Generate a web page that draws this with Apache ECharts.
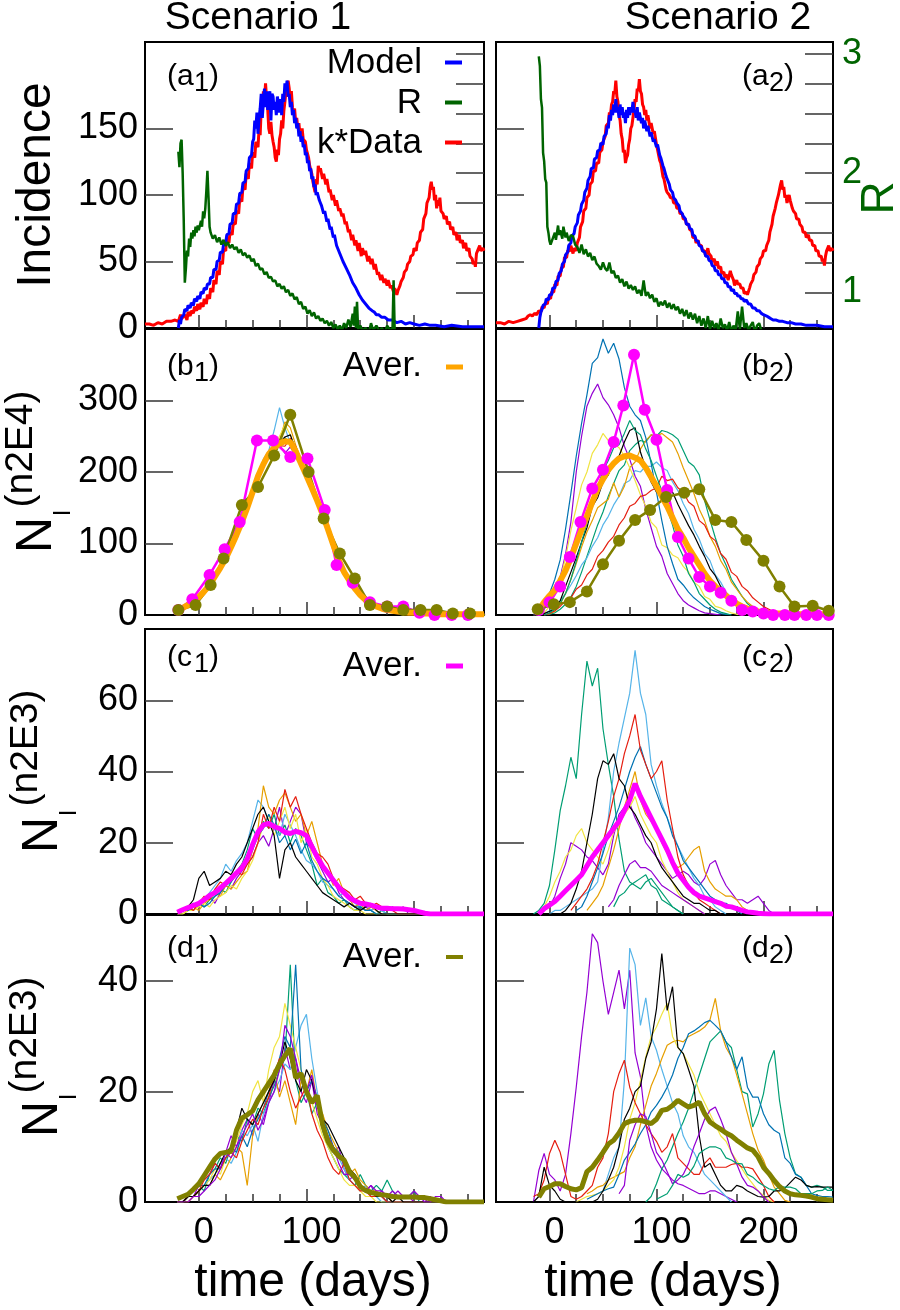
<!DOCTYPE html>
<html>
<head>
<meta charset="utf-8">
<title>Scenario 1 / Scenario 2</title>
<script src="https://cdn.jsdelivr.net/npm/echarts@6/dist/echarts.min.js"></script>
<style>
  html, body { margin: 0; background: #fff; }
  #chart { width: 900px; height: 1310px; }
</style>
</head>
<body>
<div id="chart"></div>
<script>
const _ = null;

// ---- panel (a): incidence, model and R, as [day, value] ----
const a1Data = [[-50,3],[-46,3],[-42,2],[-38,4],[-34,3],[-30,5],[-26,5],[-22,6],[-19,5],[-17,10],[-16,7],[-13,10],[-11,6],[-10,12],[-8,9],[-7,13],[-5,11],[-4,16],[-2,13],[-1,18],[1,14],[2,19],[4,16],[5,22],[7,18],[8,25],[10,22],[11,30],[13,27],[14,36],[16,33],[17,43],[19,40],[20,50],[22,48],[23,59],[25,58],[26,68],[28,64],[29,72],[31,70],[32,79],[34,78],[35,88],[37,86],[38,97],[40,95],[41,106],[43,104],[44,116],[46,112],[47,124],[49,120],[50,132],[52,128],[53,140],[55,136],[56,150],[57,145],[58,165],[59,160],[60,178],[61,170],[62,184],[63,172],[64,165],[65,150],[66,146],[67,155],[68,145],[69,140],[70,136],[71,128],[72,125],[73,134],[74,130],[75,142],[76,146],[77,156],[78,150],[79,163],[80,170],[81,178],[82,174],[83,186],[84,180],[85,172],[86,178],[87,166],[88,162],[89,165],[90,155],[91,158],[92,150],[93,154],[94,146],[96,150],[97,142],[99,140],[100,134],[102,128],[103,122],[105,116],[106,110],[107,106],[108,102],[109,112],[110,108],[111,122],[112,118],[113,120],[115,112],[116,116],[118,108],[119,112],[121,102],[122,104],[124,96],[125,100],[127,92],[128,96],[130,88],[131,90],[133,84],[134,86],[136,78],[137,80],[139,72],[140,74],[142,66],[143,70],[145,62],[146,66],[148,58],[149,64],[151,54],[152,60],[154,55],[155,58],[157,50],[158,54],[160,48],[161,52],[163,44],[164,48],[166,40],[167,42],[169,36],[170,40],[172,34],[173,37],[175,32],[176,36],[178,30],[179,32],[181,27],[182,30],[184,25],[185,28],[187,32],[188,35],[190,38],[191,42],[193,44],[194,48],[196,50],[197,54],[199,55],[200,60],[202,58],[203,64],[205,66],[206,72],[208,74],[209,82],[211,86],[212,94],[214,98],[215,106],[216,110],[217,104],[218,106],[219,96],[220,100],[221,90],[222,96],[223,92],[224,98],[225,88],[227,86],[228,82],[230,84],[231,78],[233,80],[234,74],[236,76],[237,70],[239,72],[240,66],[242,70],[243,64],[245,66],[246,60],[248,64],[249,58],[251,60],[252,54],[254,52],[255,48],[256,50],[257,46],[258,56],[259,58],[261,62],[262,58],[264,60],[265,58]];
const a1Model = [[-19,0],[-18,6],[-17,3],[-16,8],[-14,10],[-13,14],[-11,13],[-10,17],[-8,15],[-7,19],[-5,17],[-4,22],[-2,20],[-1,24],[1,22],[2,27],[4,26],[5,30],[7,29],[8,33],[10,33],[11,38],[13,38],[14,44],[16,44],[17,50],[19,51],[20,57],[22,57],[23,63],[25,64],[26,70],[28,71],[29,78],[31,79],[32,86],[34,86],[35,93],[37,94],[38,101],[40,102],[41,109],[43,110],[44,118],[46,120],[47,128],[49,130],[50,140],[51,142],[52,156],[53,150],[54,162],[55,146],[56,158],[57,165],[58,176],[59,158],[60,170],[61,180],[62,166],[63,178],[64,164],[65,172],[66,178],[67,156],[68,176],[69,174],[70,164],[71,170],[72,160],[73,174],[74,168],[75,162],[76,172],[77,160],[78,176],[79,170],[80,184],[81,178],[82,186],[83,174],[84,176],[85,166],[86,170],[87,160],[88,164],[89,154],[90,158],[91,150],[92,154],[93,144],[94,148],[95,140],[96,144],[97,136],[98,138],[99,130],[100,132],[101,124],[102,126],[103,118],[104,120],[105,112],[106,114],[107,106],[108,108],[109,100],[110,102],[112,96],[113,94],[114,92],[116,86],[117,88],[119,80],[120,82],[122,74],[123,76],[125,68],[126,70],[128,62],[129,63],[131,56],[132,57],[134,50],[135,51],[137,45],[138,46],[140,40],[141,40],[143,34],[144,35],[146,30],[147,30],[149,25],[150,26],[152,21],[153,22],[155,18],[156,19],[158,15],[159,16],[161,13],[163,12],[165,10],[167,10],[170,8],[173,8],[176,6],[180,6],[184,4],[188,5],[192,3],[196,4],[200,3],[205,2],[210,3],[215,2],[220,2],[228,1],[235,2],[245,1],[255,1],[265,1]];
const a1R = [[-19,2.18],[-18,2.05],[-17,2.25],[-16,2.28],[-15,2.0],[-14,1.6],[-13,1.08],[-12,1.2],[-11,1.35],[-10,1.3],[-9,1.45],[-8,1.38],[-7,1.5],[-6,1.45],[-5,1.52],[-4,1.47],[-3,1.55],[-2,1.5],[-1,1.56],[0,1.52],[2,1.6],[3,1.55],[4,1.68],[5,1.62],[6,1.7],[7,1.85],[8,2.02],[9,1.8],[10,1.55],[11,1.5],[13,1.45],[15,1.48],[17,1.42],[19,1.46],[21,1.4],[23,1.44],[25,1.39],[27,1.42],[29,1.37],[31,1.4],[33,1.36],[35,1.38],[37,1.33],[39,1.36],[41,1.31],[43,1.33],[45,1.29],[47,1.31],[49,1.26],[51,1.28],[53,1.22],[55,1.24],[57,1.19],[59,1.2],[61,1.15],[63,1.17],[65,1.12],[67,1.13],[69,1.09],[71,1.1],[73,1.05],[75,1.07],[77,1.03],[79,1.05],[81,1.0],[83,1.02],[85,0.97],[87,0.99],[89,0.94],[91,0.96],[93,0.9],[95,0.92],[97,0.86],[99,0.88],[101,0.82],[103,0.85],[105,0.8],[107,0.83],[109,0.78],[111,0.8],[113,0.76],[115,0.78],[117,0.74],[119,0.76],[121,0.72],[123,0.75],[125,0.7],[127,0.73],[129,0.69],[131,0.72],[133,0.68],[135,0.74],[137,0.7],[139,0.77],[141,0.71],[143,0.82],[144,0.72],[145,0.88],[146,0.7],[147,0.92],[148,0.69],[150,0.72],[152,0.68],[155,0.7],[158,0.66],[160,0.74],[162,0.68],[165,0.72],[168,0.67],[170,0.7],[173,0.66],[175,0.72],[178,0.68],[180,0.7],[181,1.1],[182,0.68],[183,0.6]];
const a2Data = [[-50,4],[-46,4],[-42,3],[-38,5],[-34,4],[-30,5],[-26,6],[-22,7],[-20,9],[-18,10],[-16,9],[-14,11],[-12,10],[-10,13],[-8,12],[-7,16],[-5,15],[-4,19],[-2,18],[-1,23],[1,22],[2,27],[4,27],[5,33],[7,32],[8,39],[10,39],[11,45],[13,46],[14,53],[16,53],[17,58],[19,58],[20,62],[22,56],[23,60],[25,58],[26,64],[28,68],[29,76],[31,80],[32,88],[34,90],[35,98],[37,100],[38,108],[40,110],[41,118],[43,118],[44,124],[46,124],[47,132],[49,134],[50,140],[52,144],[53,152],[55,154],[56,162],[57,160],[58,168],[59,170],[60,178],[61,176],[62,186],[63,174],[64,170],[65,160],[66,156],[67,146],[68,142],[69,132],[70,134],[71,124],[72,128],[73,130],[74,138],[75,142],[76,150],[77,152],[78,158],[79,164],[80,172],[81,170],[82,180],[83,178],[84,187],[85,178],[86,176],[87,168],[88,166],[89,160],[90,164],[91,156],[92,160],[94,150],[95,154],[97,146],[98,148],[100,138],[101,134],[103,126],[104,124],[106,114],[107,112],[109,104],[110,102],[112,100],[113,98],[115,98],[116,94],[118,94],[119,90],[121,90],[122,86],[124,86],[125,82],[127,82],[128,78],[130,78],[131,74],[133,73],[134,68],[136,68],[137,64],[139,66],[140,62],[142,62],[143,58],[145,58],[146,54],[148,60],[149,56],[151,54],[152,50],[154,52],[155,47],[157,50],[158,45],[160,46],[161,41],[163,42],[164,38],[166,40],[167,36],[169,43],[170,40],[172,36],[173,32],[175,36],[176,33],[178,33],[179,30],[181,30],[182,26],[184,27],[185,25],[187,30],[188,33],[190,36],[191,40],[193,42],[194,46],[196,48],[197,52],[199,54],[200,58],[202,58],[203,62],[205,66],[206,72],[208,78],[209,84],[211,90],[212,94],[214,100],[215,104],[216,108],[217,111],[218,104],[219,106],[220,98],[221,100],[222,94],[224,100],[225,96],[227,90],[228,88],[230,86],[231,82],[233,82],[234,78],[236,76],[237,72],[239,72],[240,68],[242,70],[243,66],[245,66],[246,62],[248,62],[249,58],[251,58],[252,54],[254,54],[255,50],[256,52],[257,47],[258,54],[259,58],[261,62],[262,58],[264,60],[265,58]];
const a2Model = [[-10,0],[-9,8],[-8,12],[-7,14],[-6,17],[-4,18],[-3,22],[-1,21],[0,25],[2,25],[3,30],[5,30],[6,35],[8,36],[9,41],[11,43],[12,48],[14,50],[15,55],[17,57],[18,62],[20,64],[21,69],[23,71],[24,76],[26,79],[27,85],[29,88],[30,93],[32,96],[33,102],[35,105],[36,111],[38,114],[39,120],[41,120],[42,127],[44,128],[45,133],[47,134],[48,139],[50,138],[51,144],[53,146],[54,152],[55,150],[56,160],[57,156],[58,164],[59,160],[60,168],[61,162],[62,172],[63,162],[64,166],[65,158],[66,168],[67,160],[68,166],[69,158],[70,162],[71,154],[72,164],[73,158],[74,166],[75,160],[76,166],[77,162],[78,170],[79,162],[80,164],[81,158],[82,166],[83,156],[84,162],[86,154],[87,158],[88,150],[89,156],[91,148],[92,152],[94,144],[95,147],[97,140],[98,142],[100,136],[101,138],[103,130],[104,128],[106,122],[107,120],[109,114],[110,112],[112,108],[113,104],[115,102],[116,98],[118,96],[119,94],[121,92],[122,88],[124,86],[125,84],[127,82],[128,78],[130,78],[131,75],[133,74],[134,70],[136,69],[137,66],[139,65],[140,62],[142,61],[143,58],[145,57],[146,54],[148,54],[149,51],[151,50],[152,47],[154,46],[155,43],[157,43],[158,40],[160,40],[161,37],[163,37],[164,34],[166,34],[167,31],[169,31],[170,28],[172,29],[173,26],[175,26],[176,24],[178,24],[179,22],[181,22],[182,20],[184,21],[186,18],[188,18],[190,15],[192,15],[194,13],[196,13],[198,11],[200,10],[203,9],[205,8],[207,7],[209,6],[212,6],[215,5],[218,5],[222,4],[226,4],[230,3],[235,3],[240,2],[245,2],[250,2],[257,1],[265,1]];
const a2R = [[-10,2.98],[-9,2.9],[-8,2.62],[-7,2.55],[-6,2.17],[-5,2.1],[-4,1.95],[-3,1.92],[-2,1.55],[-1,1.5],[0,1.43],[1,1.4],[2,1.39],[3,1.45],[5,1.5],[6,1.44],[8,1.56],[9,1.48],[10,1.52],[12,1.45],[13,1.55],[15,1.46],[16,1.5],[18,1.43],[20,1.48],[22,1.47],[24,1.4],[26,1.38],[28,1.33],[30,1.4],[32,1.32],[34,1.36],[36,1.3],[38,1.33],[40,1.27],[42,1.3],[44,1.24],[46,1.22],[48,1.19],[50,1.25],[52,1.2],[54,1.18],[56,1.25],[58,1.16],[60,1.18],[62,1.12],[64,1.14],[66,1.08],[68,1.11],[70,1.05],[72,1.09],[74,1.03],[76,1.06],[78,1.02],[80,1.05],[82,0.99],[84,1.02],[86,0.97],[88,1.1],[90,0.97],[92,1.0],[94,0.95],[96,0.98],[98,0.92],[100,0.95],[102,0.88],[104,0.92],[106,0.89],[108,0.93],[110,0.87],[112,0.91],[114,0.86],[116,0.9],[118,0.85],[120,0.88],[122,0.82],[124,0.86],[126,0.8],[128,0.85],[130,0.78],[132,0.83],[134,0.77],[136,0.82],[138,0.74],[140,0.8],[142,0.72],[144,0.78],[146,0.7],[148,0.8],[150,0.69],[152,0.76],[154,0.7],[156,0.74],[158,0.68],[160,0.78],[162,0.7],[164,0.73],[166,0.68],[168,0.75],[170,0.67],[172,0.72],[174,0.68],[176,0.84],[178,0.69],[180,0.88],[182,0.7],[184,0.74],[186,0.68],[188,0.72],[190,0.75],[192,0.66],[194,0.72],[196,0.74],[198,0.68],[200,0.6]];

// ---- panels (b)-(d): values sampled on this day grid ----
const days = [-20,-15,-10,-5,0,5,10,15,20,25, 30,35,40,45,50,55,60,65,70,75, 80,85,90,95,100,105,110,115,120,125, 130,135,140,145,150,155,160,165,170,175, 180,185,190,195,200,205,210,215,220,225, 230,235,240,245,250,255,260,265];

const b1Avg = [6,10,14,19,25,33,42,54,66,79, 95,112,130,150,172,194,211,225,234,240, 243,242,229,212,195,178,160,141,120,98, 77,60,48,37,28,21,16,12,9,7, 6,5,4,3,3,2,2,2,1,1, 1,1,1,1,1,1,1,1];
const b1Mag = [[-19,7],[-6,22],[10,56],[24,92],[38,130],[54,244],[69,244],[85,221],[101,219],[117,147],[128,70],[143,45],[159,18],[175,12],[190,12],[205,3],[219,0],[235,0],[250,0],[266,0]];
const b1Olive = [[-19,7],[-3,14],[11,42],[23,79],[40,154],[55,179],[70,223],[85,280],[102,200],[116,135],[131,86],[145,51],[159,14],[175,12],[190,7],[206,7],[221,7],[236,2],[252,2],[266,0]];
const b1Runs = [
  [5,9,15,18,26,30,44,52,70,76, 98,108,134,146,176,190,215,222,230,238, 226,235,222,210,190,182,158,146,118,100, 74,62,46,38,26,22,14,12,8,6, 5,4,3,2,2,1,1,1,0,0,0],
  [6,10,13,20,24,35,40,57,63,82, 92,115,128,153,168,198,207,228,238,236, 248,240,225,216,199,172,163,138,124,95, 80,57,50,34,30,19,17,11,10,6, 6,4,4,3,2,2,1,1,1,0,0],
  [7,9,16,17,27,31,45,50,68,74, 99,106,135,144,178,188,218,230,258,290, 262,240,220,208,193,180,156,144,115,102, 73,63,45,40,25,23,15,13,9,7, 5,5,3,3,2,1,1,1,0,0,0],
  [5,11,13,21,23,34,41,56,64,80, 96,110,126,152,170,196,212,224,236,244, 270,262,238,215,198,175,164,139,122,96, 81,58,52,36,30,24,18,15,12,9, 7,6,4,3,2,2,1,1,1,0,0],
  [6,10,14,19,25,32,43,53,67,79, 94,113,131,149,174,193,210,226,236,250, 266,252,232,214,196,180,161,142,121,99, 78,61,49,37,29,21,16,12,9,7, 5,4,3,3,2,2,1,1,0,0,0],
  [7,9,15,18,26,33,41,55,65,81, 93,114,129,151,171,195,209,227,232,242, 240,244,228,210,194,177,159,140,119,97, 76,59,47,36,27,20,15,11,8,6, 5,4,3,2,2,1,1,1,0,0,0],
  [5,10,14,20,24,34,42,53,66,78, 96,111,130,150,173,194,213,222,232,237, 236,247,236,218,201,180,162,137,115,96, 72,57,45,34,26,19,14,10,8,6, 4,3,3,2,2,1,1,0,0,0,0],
  [6,9,13,19,25,33,43,54,67,78, 95,112,131,151,172,196,211,224,238,241, 249,252,231,214,196,179,160,142,120,98, 77,60,48,37,28,21,16,12,9,7, 5,4,3,2,2,1,1,1,0,0,0]
];

const b2Avg = [_,_,7,18,27,35,48,62,80,100, 119,138,158,176,190,203,212,219,222,223, 220,216,206,193,180,166,152,136,120,108, 94,82,70,58,48,40,33,27,21,16, 12,9,7,5,4,3,2,2,2,2, 1,1,1,1,1,1,1,1];
const b2Mag = [[-10,7],[0,18],[10,40],[19,81],[29,130],[40,177],[50,203],[60,242],[69,293],[79,364],[89,287],[100,245],[110,175],[120,109],[130,79],[140,53],[150,40],[160,31],[170,20],[180,7],[190,5],[200,2],[209,0],[220,0],[229,0],[240,0],[250,0],[261,0]];
const b2Olive = [[-11,8],[4,15],[19,18],[35,33],[50,71],[65,104],[80,133],[94,147],[109,165],[126,171],[140,176],[155,133],[170,130],[184,105],[200,76],[215,40],[229,12],[246,13],[261,6]];
const b2Runs = [
  [_,0,2,8,20,35,53,85,130,200, 250,292,310,323,304,294,280,262,236,218, 194,180,148,122,96,82,58,44,30,20, 14,10,6,3,2,1,0],
  [_,_,_,0,1,3,8,15,25,40, 60,82,104,126,144,166,184,202,210,230, 238,244,242,252,250,258,256,252,246,230, 214,208,196,160,133,108,86,70,50,38, 26,16,10,6,3,2,1,0],
  [_,_,0,2,6,12,20,30,42,55, 70,80,96,108,126,138,154,166,184,188, 202,200,208,208,214,206,202,186,174,156, 142,120,106,86,76,56,46,32,24,16, 10,6,3,1,0],
  [_,_,_,0,2,5,15,30,50,72, 95,116,132,150,156,162,185,165,180,206, 214,232,244,252,250,254,248,242,226,206, 188,170,148,132,110,96,76,64,46,36, 26,18,12,8,5,3,1,0],
  [_,0,0,3,12,28,50,80,118,150, 182,200,226,238,254,244,240,234,222,206, 188,168,152,130,122,98,94,84,80,68, 60,46,40,26,22,12,10,6,3,1, 0],
  [_,0,2,8,30,50,77,120,170,222, 268,308,352,360,386,366,380,358,318,292, 280,272,248,212,172,132,96,72,50,42, 32,24,18,12,8,5,2,1,0],
  [_,_,_,0,2,6,12,20,24,36, 42,56,64,82,90,102,110,126,136,152, 156,166,168,174,178,194,188,190,178,172, 158,152,132,126,110,104,86,78,60,54, 40,34,24,18,12,8,4,2,1,0],
  [_,0,0,2,5,8,20,40,60,80, 102,122,152,164,186,196,214,222,242,258, 262,228,205,186,172,168,178,172,155,140, 125,112,96,82,65,55,40,30,22,17, 12,8,4,2,1,0],
  [_,_,_,0,3,8,16,30,50,75, 102,128,156,178,202,216,234,238,254,272, 258,252,232,216,194,174,148,126,98,82, 58,46,30,22,14,8,4,2,0]
];

const c1Avg = [0.5,1.2,1.8,2.4,3,4,5.2,6,7.3,8.6, 10,11.5,13,15.5,19.5,23,25,25.4,24.5,24, 23,22.6,23.2,22.8,22,19,16,13.5,11.5,9.5, 7.5,6,4.5,3.7,3,2.8,2.5,2,1.6,1.6, 1.5,1.5,1.4,1.2,1,0.6,0.2,0,0,0, 0,0,0,0,0,0,0,0];
const c1Runs = [
  [0,1,2,3,2,4,5,3,6,8, 7,10,12,14,16,20,22,19,24,30, 22,26,30,28,20,18,15,12,9,10, 6,4,3,2,3,2,1,2,1,1, 2,1,2,0,0,0,0,0],
  [0,0,1,2,3,2,4,5,7,6, 9,12,14,18,24,21,26,24,28,22, 25,20,24,22,18,14,8,10,6,5, 3,4,2,1,2,1,1,0,1,0, 0,0,0,0,0,0,0,0],
  [0,1,2,1,3,4,6,8,10,14, 12,15,17,20,26,32,30,26,24,22, 28,25,22,18,15,14,12,9,8,7, 5,6,4,3,2,3,1,2,1,0, 0,0,0,0,0,0,0,0],
  [0,0,1,2,1,3,4,6,5,8, 7,9,11,12,18,24,36,30,28,32, 34,30,26,28,22,26,20,14,12,8, 10,6,4,2,3,1,2,1,0,0, 0,0,0,0,0,0,0,0],
  [0,0,1,1,2,3,2,4,5,6, 8,7,10,12,15,20,25,28,22,26, 30,24,28,20,24,16,14,10,8,5, 4,3,2,1,1,0,0,0,0,0, 0,0,0,0,0,0,0,0],
  [0,1,1,2,3,2,3,5,6,8, 9,11,13,15,18,22,24,28,25,20, 22,18,21,17,20,15,12,10,9,7, 5,4,3,2,2,1,1,0,0,0, 0,0,0,0,0,0,0,0],
  [0,1,2,1,3,5,4,7,9,8, 10,12,11,14,16,20,28,24,30,26, 35,30,33,28,24,20,17,16,14,10, 8,7,6,4,5,3,2,3,2,1, 1,0,0,0,0,0,0,0],
  [0,1,2,4,10,12,8,9,10,12, 11,14,16,20,24,28,30,26,22,10, 18,20,16,14,12,10,8,6,5,4, 3,2,3,2,1,2,3,1,0,0, 0,0,0,0,0,0,0,0]
];

const c2Avg = [_,_,0,1.5,2.5,3.5,5,6.5,8,9.5, 11,13.5,16,18,20,22,24,26,29,32, 36.6,33,30,27,24,21,18,14.5,11.5,9.5, 7.5,6,5,4.5,4,3.5,3,2.2,2,1.5, 1,0.6,0.4,0.2,0.1,0,0,0,0,0, 0,0,0,0,0,0,0,0];
const c2Runs = [
  [_,_,_,_,2,5,10,14,20,19, 18,16,15,13,11,14,22,28,30,31, 27,24,20,18,16,14,12,10,11,12, 11,9,8,10,14,15,11,8,6,4, 4,3,4,5,3,1,0],
  [_,0,1,3,8,18,29,36,44,38, 56,71,64,69,52,42,33,21,12,9, 8,7,9,10,8,6,4,2,1,0],
  [_,_,_,_,0,1,1,2,3,4, 5,6,7,9,18,27,40,48,55,62, 74,62,56,42,36,31,27,23,19,16, 13,10,8,5,4,2,1,0],
  [_,_,_,_,_,_,_,_,_,_, _,1,3,5,8,13,18,24,30,35, 40,32,28,26,24,20,17,15,13,14, 16,18,19,12,9,7,6,5,5,4, 2,1,0],
  [_,_,0,2,5,9,12,16,18,22, 24,20,18,16,14,18,23,25,28,30, 33,28,25,22,20,15,12,9,6,4, 3,2,1,0],
  [_,_,_,_,_,_,_,_,_,1, 2,5,9,13,17,22,26,30,35,40, 44,47,42,38,34,30,27,22,19,15, 13,11,9,7,5,4,3,3,2,1, 0],
  [_,_,_,_,_,_,_,_,1,3, 5,7,10,14,20,26,33,38,45,50, 56,46,42,38,40,43,32,24,16,11, 8,6,4,3,2,1,0],
  [_,_,_,_,0,0,0,1,3,7, 12,20,28,38,43,42,45,38,36,30, 28,25,22,20,16,13,11,9,7,5, 4,3,3,2,1,1,0],
  [_,_,_,_,_,_,_,_,_,_, _,_,_,_,_,2,4,8,11,14, 15,13,13,12,10,8,7,6,5,4, 3,2,1,0],
  [_,_,_,_,_,_,_,_,_,_, _,_,_,_,_,_,2,5,6,8, 9,10,11,8,7,4,3,2,1,0]
];

const d1Avg = [0.6,1,1.4,2.3,3.3,4.8,6.3,7.8,8.8,9, 9.2,13,15.2,15.8,16.5,18.5,20,21.5,23,25, 26.5,27.8,22.5,23.3,20,18,19.3,14,11,9.4, 8.3,7.6,5.5,4.5,2.8,2.1,1.7,1.5,1.3,1.2, 1,0.9,0.9,0.9,0.9,0.8,0.8,0.6,0.4,0.2, 0,0,0,0,0,0,0,0];
const d1Runs = [
  [0,0,1,1,3,4,5,7,6,9, 12,10,13,15,12,16,14,18,22,20, 28,24,26,20,18,22,16,14,12,9, 10,6,4,5,3,2,3,1,2,1, 1,2,1,1,0,0,0,1,0,0,0],
  [0,0,1,2,3,2,5,6,8,7, 10,12,11,15,14,17,16,19,21,24, 26,43,22,18,20,16,18,13,10,8, 6,5,4,3,5,3,2,3,2,4, 2,1,1,1,2,0,0,0,0,0,0],
  [0,0,1,1,2,3,4,5,7,8, 7,9,13,12,14,11,16,18,20,22, 25,24,28,32,34,26,20,15,12,10, 8,6,4,3,2,3,1,1,0,0, 0,0,0,0,0,0,0,0,0,0,0],
  [0,0,0,1,2,3,3,5,4,6, 8,10,9,3,12,16,18,20,24,19, 22,18,14,22,20,24,18,16,13,11, 9,7,5,6,4,3,2,2,1,1, 0,0,0,0,0,0,0,0,0,0,0],
  [0,0,1,1,2,3,4,6,5,8, 9,11,14,16,20,22,18,24,28,30, 36,32,28,24,20,18,15,12,10,8, 6,4,3,3,2,1,1,0,0,0, 0,0,0,0,0,0,0,0,0,0,0],
  [0,0,1,2,3,3,5,6,6,8, 10,9,12,10,13,15,17,20,22,26, 30,28,43,24,20,22,19,15,13,10, 9,7,5,4,3,2,2,1,1,0, 0,0,0,0,0,0,0,0,0,0,0],
  [0,0,1,1,2,4,5,7,6,8, 9,8,11,13,15,14,17,19,23,26, 24,20,17,19,21,16,13,11,8,6, 5,7,4,3,2,2,1,1,1,0, 0,0,0,0,0,0,0,0,0,0,0],
  [0,0,1,1,2,3,3,5,7,9, 10,13,17,15,14,16,18,20,22,25, 29,26,22,20,24,22,18,15,14,12, 10,8,6,5,3,2,2,1,1,1, 0,1,0,0,0,0,0,0,0,0,0],
  [0,0,0,1,1,2,3,4,6,9, 8,10,12,14,16,13,15,18,20,24, 32,30,26,22,20,23,18,14,12,10, 7,5,5,4,3,2,3,2,2,1, 2,1,1,1,2,1,0,0,1,1,0]
];

const d2Avg = [_,_,0.9,2.4,2.8,3.3,3.3,2.8,2.4,2.2, 2.6,5.5,6.3,7.6,9,10.5,11.2,12.5,14.2,14.6, 14.8,14.8,14.5,14.2,15,16.6,16.8,17.5,18.4,17.8, 17.2,17.5,18.1,16,14.5,13.8,13.2,12.5,12,11.2, 10.5,9.8,9.4,8.2,6.3,5.2,3.9,2.8,2,1.5, 1.3,1.2,1.1,0.9,0.6,0.5,0.4,0.3];
const d2Runs = [
  [_,0,5.7,8.8,5,4,2,5,12.4,20.8, 30,38,48.6,47,40,34,38,42,35,42, 27,22.7,14,10,7.6,6,5,4,3.3,3, 2.5,2,1.5,1.5,2,2,1.5,1,0.5,0],
  [_,_,_,_,_,_,_,_,_,_, _,_,_,_,_,_,_,_,_,_, _,_,0,1,3.3,6,7.6,10,12.4,14.5, 17,20,23,26,29,30,31,29,28,24, 20,19.6,13.6,16,19.6,25,27.5,18.4,12.4,8, 5.1,4.5,3,2.7,3,2.7,2.1,2.1],
  [_,_,_,_,_,_,_,_,_,_, _,_,_,_,2,5,8,10,22,46, 43,32,37,30,27.5,24,21,18,16,12, 10,9,7,5,4,3,2,1,0],
  [_,_,_,_,_,_,_,_,_,_, _,1.5,2,2.7,3,4,4.5,5,5.5,8, 10,14,17.5,21,23.3,26,28.4,29,29.3,29, 30,30.5,31,31.7,33,36.9,31,28,26.3,23, 19.6,16,12.4,9.4,7.6,5,2.7,1.5,0.3,0],
  [_,_,_,_,_,_,_,_,_,0, 0.5,1,1.2,1.5,2,3,4,6.3,10,15, 18,22,26.3,30,31.7,34,36,30,28,26.9, 25,23,20,18,16,14,12,11,9,7.5, 6,4.5,3.3,2,1.2,0.3,0],
  [_,_,_,_,_,_,_,_,_,_, _,0.5,1,1.5,2,2.4,2.7,5,7.6,9, 10.5,12.4,14,16.3,17.5,19,20.8,23,26,28, 30.5,31,31.7,32.5,32.9,32,31,29,26.3,24, 26.3,20.8,19,19,16,14,13,12.4,8,7, 5,4.5,3,1.5,1.2,1,1,0.9],
  [_,1,1.5,4,8.8,11.2,9,5,1,0.5, 1,2,3,6.3,8,12.4,20,23.3,25.7,20.8, 18,16,14,12.4,11,9,10,12.4,8,7, 6,5,5,7,8,6.3,6.3,6.3,6.8,7, 6.3,6.3,6,4.5,3,1,0],
  [_,0,1,6.3,3,2,0.5,0,0,0, 0,0,0,0.5,2,4,6.3,10,15,17, 20,21,26,29,35,45,34.7,39,28,26.9, 24,21,12,6.3,7,5,3,2,2,3, 2.7,2,1.5,1,0.9,1,2,2,2.5,3.5, 4.5,4,3,2.7,2.8,2.7,2.7,2.7],
  [_,_,_,_,_,_,_,_,_,_, _,_,_,_,_,_,_,1.5,3,11.2, 14,16,15.5,12.4,9,7.6,5.5,3.3,4,5, 7,10,12.4,15,16.6,17.2,15,12.4,9,6.9, 4.5,3,2.7,2,0.9,0],
  [_,_,_,_,_,_,_,_,_,_, _,_,_,_,_,_,_,_,_,_, _,_,_,_,0.5,1,1.5,3,5,4.5, 5,6.5,8.8,9.5,10,10,9.6,8,7.6,7, 6.9,5,4.5,3.6,3,2.4,2.1,2.8,2.7,2.7, 2.4,1.5,1.5,1.5,2,2.1,2.7,2.1]
];

// tick / label values
const xMajor = [0, 100, 200];
const xMinor = [25, 50, 75, 125, 150, 175, 225, 250];
const rowMax = [215, 400, 80, 52];
const rowTicks = [[50, 100, 150], [100, 200, 300], [20, 40, 60], [20, 40]];
const rowLabels = [[0, 50, 100, 150], [0, 100, 200, 300], [0, 20, 40, 60], [0, 20, 40]];
const rTicks = [1, 1.25, 1.5, 1.75, 2, 2.25, 2.5, 2.75, 3];
const rLabels = [1, 2, 3];

// colours
const runColors = ['#9400D3', '#009E73', '#56B4E9', '#E69F00', '#F0E442', '#0072B2', '#E51E10', '#000000', '#9400D3', '#009E73'];
const b2Colors = ['#9400D3', '#009E73', '#56B4E9', '#E69F00', '#F0E442', '#0072B2', '#E51E10', '#000000', '#009E73'];
const C_MODEL = '#0000FF', C_R = '#006400', C_DATA = '#FF0000';
const C_ORANGE = '#FFA500', C_MAG = '#FF00FF', C_OLIVE = '#808000';

const FONT = '"Liberation Sans", Arial, Helvetica, sans-serif';

const gridBoxes = [
  { left: 145, top: 42, width: 339, height: 286 },
  { left: 496, top: 42, width: 337, height: 286 },
  { left: 145, top: 329, width: 339, height: 286 },
  { left: 496, top: 329, width: 337, height: 286 },
  { left: 145, top: 629, width: 339, height: 285 },
  { left: 496, top: 629, width: 337, height: 285 },
  { left: 145, top: 915, width: 339, height: 287 },
  { left: 496, top: 915, width: 337, height: 287 }
];

function zip(vals) {
  const out = [];
  for (let i = 0; i < vals.length; i++) out.push([days[i], vals[i]]);
  return out;
}

const grid = [], xAxis = [], yAxis = [], series = [];
const hidden = () => ({ show: false, onZero: false });

// plotting grids 0..7: x axes 2g (major ticks, labels) and 2g+1 (minor ticks), y axes g (hidden scale)
gridBoxes.forEach((b, g) => {
  const row = Math.floor(g / 2);
  grid.push(Object.assign({ show: true, borderColor: '#000', borderWidth: 2, backgroundColor: 'transparent' }, b));
  xAxis.push({
    gridIndex: g, type: 'value', position: 'bottom', min: -50, max: 265,
    axisLine: hidden(), splitLine: { show: false },
    axisTick: { inside: true, length: 13, customValues: xMajor.slice(), lineStyle: { color: '#333', width: 1.5 } },
    axisLabel: { show: row === 3, customValues: xMajor.slice(), fontSize: 36, fontFamily: FONT, color: '#000', margin: 13, padding: [0, 0, 0, 10] }
  });
  xAxis.push({
    gridIndex: g, type: 'value', position: 'bottom', min: -50, max: 265,
    axisLine: hidden(), splitLine: { show: false },
    axisTick: { inside: true, length: 8, customValues: xMinor.slice(), lineStyle: { color: '#333', width: 1.5 } },
    axisLabel: { show: false }
  });
  yAxis.push({
    gridIndex: g, type: 'value', position: 'left', min: 0, max: rowMax[row],
    axisLine: hidden(), splitLine: { show: false }, axisTick: { show: false }, axisLabel: { show: false }
  });
});
// hidden R scales (yAxis 8, 9) on the (a) plotting grids
[0, 1].forEach(g => {
  yAxis.push({
    gridIndex: g, type: 'value', position: 'right', min: 0.7, max: 3.1,
    axisLine: hidden(), splitLine: { show: false }, axisTick: { show: false }, axisLabel: { show: false }
  });
});
// tick grids 8..15 (same boxes): x axis 16+g is a dummy range, y axes carry the visible ticks and labels
gridBoxes.forEach((b, g) => {
  const row = Math.floor(g / 2), col = g % 2;
  grid.push(Object.assign({ show: false }, b));
  xAxis.push({
    gridIndex: 8 + g, type: 'value', min: 1, max: 2, show: false,
    axisLine: hidden(), axisTick: { show: false }, axisLabel: { show: false }, splitLine: { show: false }
  });
  yAxis.push({
    gridIndex: 8 + g, type: 'value', position: 'left', min: 0, max: rowMax[row],
    axisLine: hidden(), splitLine: { show: false },
    axisTick: { inside: true, length: 28, customValues: rowTicks[row].slice(), lineStyle: { color: '#333', width: 1.5 } },
    axisLabel: { show: col === 0, customValues: rowLabels[row].slice(), fontSize: 36, fontFamily: FONT, color: '#000', margin: 7 }
  });
});
[0, 1].forEach(g => {
  yAxis.push({
    gridIndex: 8 + g, type: 'value', position: 'right', min: 0.7, max: 3.1,
    axisLine: hidden(), splitLine: { show: false },
    axisTick: { inside: true, length: 28, customValues: rTicks.slice(), lineStyle: { color: '#333', width: 1.5 } },
    axisLabel: { show: g === 1, customValues: rLabels.slice(), fontSize: 36, fontFamily: FONT, color: C_R, margin: 9 }
  });
});

function line(g, data, color, width, extra) {
  return Object.assign({
    type: 'line', xAxisIndex: 2 * g, yAxisIndex: g, data: data,
    symbol: 'none', showSymbol: false, clip: true, silent: true, animation: false,
    lineStyle: { color: color, width: width }, itemStyle: { color: color }
  }, extra || {});
}
function dotted(g, data, color) {
  return line(g, data, color, 2.5, { symbol: 'circle', showSymbol: true, symbolSize: 12 });
}

// (a)
series.push(line(0, a1Data, C_DATA, 3));
series.push(line(0, a1Model, C_MODEL, 3));
series.push(line(0, a1R, C_R, 2.5, { yAxisIndex: 8 }));
series.push(line(1, a2Data, C_DATA, 3));
series.push(line(1, a2Model, C_MODEL, 3));
series.push(line(1, a2R, C_R, 2.5, { yAxisIndex: 9 }));
// (b)
b1Runs.forEach((v, i) => series.push(line(2, zip(v), runColors[i], 1.2)));
series.push(dotted(2, b1Mag, C_MAG));
series.push(dotted(2, b1Olive, C_OLIVE));
series.push(line(2, zip(b1Avg), C_ORANGE, 6));
b2Runs.forEach((v, i) => series.push(line(3, zip(v), b2Colors[i], 1.2)));
series.push(dotted(3, b2Mag, C_MAG));
series.push(dotted(3, b2Olive, C_OLIVE));
series.push(line(3, zip(b2Avg), C_ORANGE, 6));
// (c)
c1Runs.forEach((v, i) => series.push(line(4, zip(v), runColors[i], 1.2)));
series.push(line(4, zip(c1Avg), C_MAG, 5));
c2Runs.forEach((v, i) => series.push(line(5, zip(v), runColors[i], 1.2)));
series.push(line(5, zip(c2Avg), C_MAG, 5));
// (d)
d1Runs.forEach((v, i) => series.push(line(6, zip(v), runColors[i], 1.2)));
series.push(line(6, zip(d1Avg), C_OLIVE, 5));
d2Runs.forEach((v, i) => series.push(line(7, zip(v), runColors[i], 1.2)));
series.push(line(7, zip(d2Avg), C_OLIVE, 5));

// text helpers
function txt(x, y, s, size, o) {
  o = o || {};
  const al = o.align || 'center';
  return {
    type: 'text', x: x, y: y, rotation: o.rot || 0, silent: true, z: 100,
    style: { text: s, fontSize: size, fontFamily: FONT, fill: o.color || '#000',
      align: al, textAlign: al, verticalAlign: 'middle', textVerticalAlign: 'middle' }
  };
}
function swatch(x, y, color, h) {
  return { type: 'rect', silent: true, z: 100, shape: { x: x, y: y - h / 2, width: 17, height: h }, style: { fill: color } };
}
function panelLabel(x, y, letter, sub) {
  return [
    txt(x, y, '(' + letter, 30, { align: 'left' }),
    txt(x + 27, y + 7, sub, 27, { align: 'left' }),
    txt(x + 42, y, ')', 30, { align: 'left' })
  ];
}
function nLabel(xN, yN, sup, xSup, ySup) {
  return [
    txt(xN, yN, 'N', 50, { rot: Math.PI / 2 }),
    txt(xN + 26, yN - 22, 'I', 24, { rot: Math.PI / 2 }),
    txt(xSup, ySup, sup, 39, { rot: Math.PI / 2 })
  ];
}
const P2 = Math.PI / 2;
const graphic = [].concat(
  [txt(258, 18, 'Scenario 1', 39), txt(718, 18, 'Scenario 2', 39)],
  [txt(37, 185, 'Incidence', 48, { rot: P2 })],
  nLabel(37, 535, '(n2E4)', 21, 449),
  nLabel(43, 835, '(n2E3)', 26, 748),
  nLabel(43, 1119, '(n2E3)', 25, 1035),
  [txt(880, 198, 'R', 46, { rot: P2, color: C_R })],
  [txt(313, 1283, 'time (days)', 48), txt(663, 1283, 'time (days)', 48)],
  panelLabel(167, 77, 'a', '1'), panelLabel(742, 77, 'a', '2'),
  panelLabel(167, 367, 'b', '1'), panelLabel(742, 367, 'b', '2'),
  panelLabel(167, 658, 'c', '1'), panelLabel(742, 658, 'c', '2'),
  panelLabel(167, 949, 'd', '1'), panelLabel(742, 949, 'd', '2'),
  [txt(422, 63, 'Model', 35, { align: 'right' }), swatch(445, 62.5, C_MODEL, 4),
   txt(422, 103, 'R', 35, { align: 'right' }), swatch(445, 102.5, C_R, 4),
   txt(422, 143, 'k*Data', 35, { align: 'right' }), swatch(445, 142.5, C_DATA, 4)],
  [txt(422, 366, 'Aver.', 35, { align: 'right' }), swatch(446, 367, C_ORANGE, 5),
   txt(422, 666, 'Aver.', 35, { align: 'right' }), swatch(446, 666, C_MAG, 5),
   txt(422, 957, 'Aver.', 35, { align: 'right' }), swatch(446, 957, C_OLIVE, 4)]
);

const chart = echarts.init(document.getElementById('chart'), null, { renderer: 'canvas' });
chart.setOption({
  backgroundColor: '#fff',
  animation: false,
  grid: grid, xAxis: xAxis, yAxis: yAxis, series: series,
  graphic: graphic
});
</script>
</body>
</html>
